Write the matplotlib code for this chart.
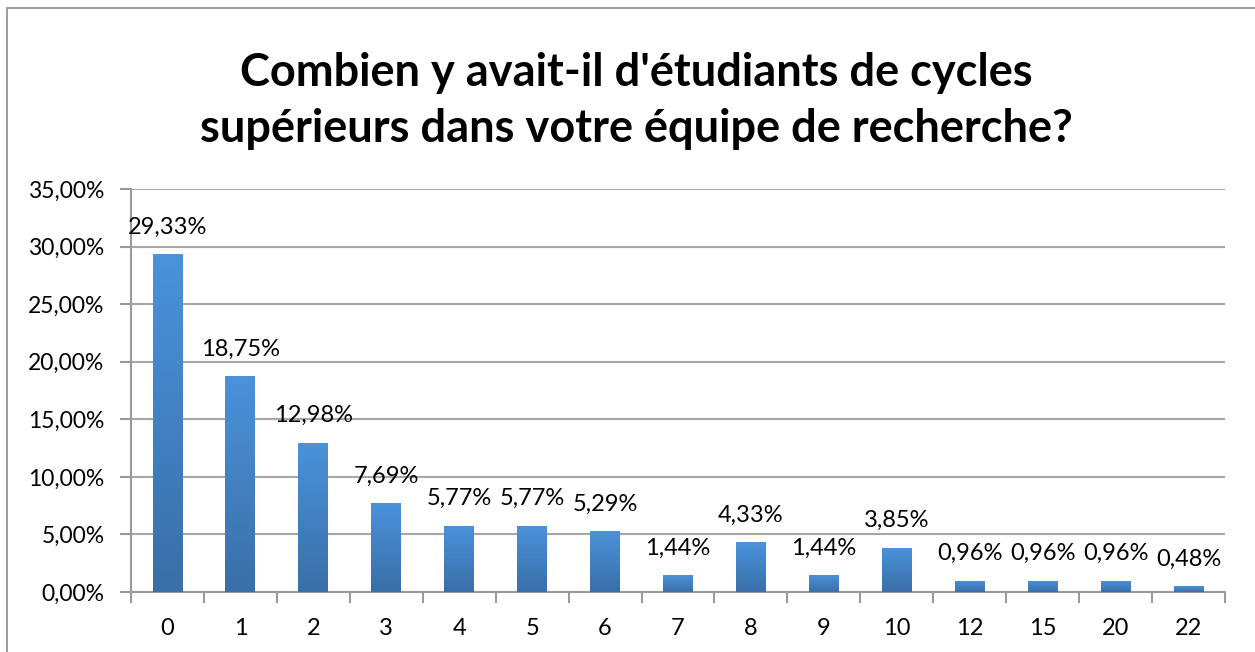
import numpy as np
import matplotlib.pyplot as plt
from matplotlib.patches import Rectangle
from matplotlib.colors import LinearSegmentedColormap

categories = ['0', '1', '2', '3', '4', '5', '6', '7', '8', '9', '10', '12', '15', '20', '22']
values = [29.33, 18.75, 12.98, 7.69, 5.77, 5.77, 5.29, 1.44, 4.33, 1.44, 3.85, 0.96, 0.96, 0.96, 0.48]
yticks = [0, 5, 10, 15, 20, 25, 30, 35]
title = "Combien y avait-il d'étudiants de cycles\nsupérieurs dans votre équipe de recherche?"

plt.rcParams['font.family'] = ['Lato', 'DejaVu Sans']

fig = plt.figure(figsize=(12.55, 6.52), dpi=100)
fig.patches.append(Rectangle((7 / 1255, -0.01), 1.1, 1 - 8 / 652 + 0.01, transform=fig.transFigure,
                             fill=False, edgecolor='#8c8c8c', linewidth=1.2))
ax = fig.add_axes([131 / 1255, 60 / 652, (1225 - 131) / 1255, (592 - 189) / 652])

x = np.arange(len(categories))
bars = ax.bar(x, values, width=0.41, color='#4485cc', zorder=3)

grad = LinearSegmentedColormap.from_list('g', ['#3a6fa8', '#4a92db'])
g = np.linspace(0, 1, 100).reshape(-1, 1)
for b in bars:
    x0, y0 = b.get_x(), b.get_y()
    w, h = b.get_width(), b.get_height()
    im = ax.imshow(g, cmap=grad, origin='lower', aspect='auto',
                   extent=(x0, x0 + w, y0, y0 + h), zorder=4)
    im.set_clip_path(b)

for xi, v in zip(x, values):
    ax.annotate(f"{v:.2f}%".replace('.', ','), (xi, v), xytext=(0, 12), textcoords='offset points',
                ha='center', va='bottom', fontsize=17, color='black', zorder=5)

ax.set_xlim(-0.5, len(categories) - 0.5)
ax.set_ylim(0, 35)
ax.set_yticks(yticks)
ax.set_yticklabels([f"{t},00%" for t in yticks], fontsize=16.5)
ax.set_xticks(x)
ax.set_xticklabels(categories, fontsize=17)
ax.set_xticks(np.arange(-0.5, len(categories)), minor=True)
ax.tick_params(axis='x', which='major', length=0, pad=19)
ax.tick_params(axis='x', which='minor', length=8, width=1.5, color='#9a9a9a')
ax.tick_params(axis='y', length=8, width=1.5, color='#9a9a9a', pad=11)
ax.grid(axis='y', color='#a6a6a6', linewidth=1.5, zorder=0)
for s in ['top', 'right']:
    ax.spines[s].set_visible(False)
for s in ['left', 'bottom']:
    ax.spines[s].set_color('#9a9a9a')
    ax.spines[s].set_linewidth(1.5)

fig.text(636 / 1255, 1 - 101 / 652, title, ha='center', va='center', fontsize=32.5,
         fontweight='bold', linespacing=1.42)

fig.savefig('out.png', dpi=100)
